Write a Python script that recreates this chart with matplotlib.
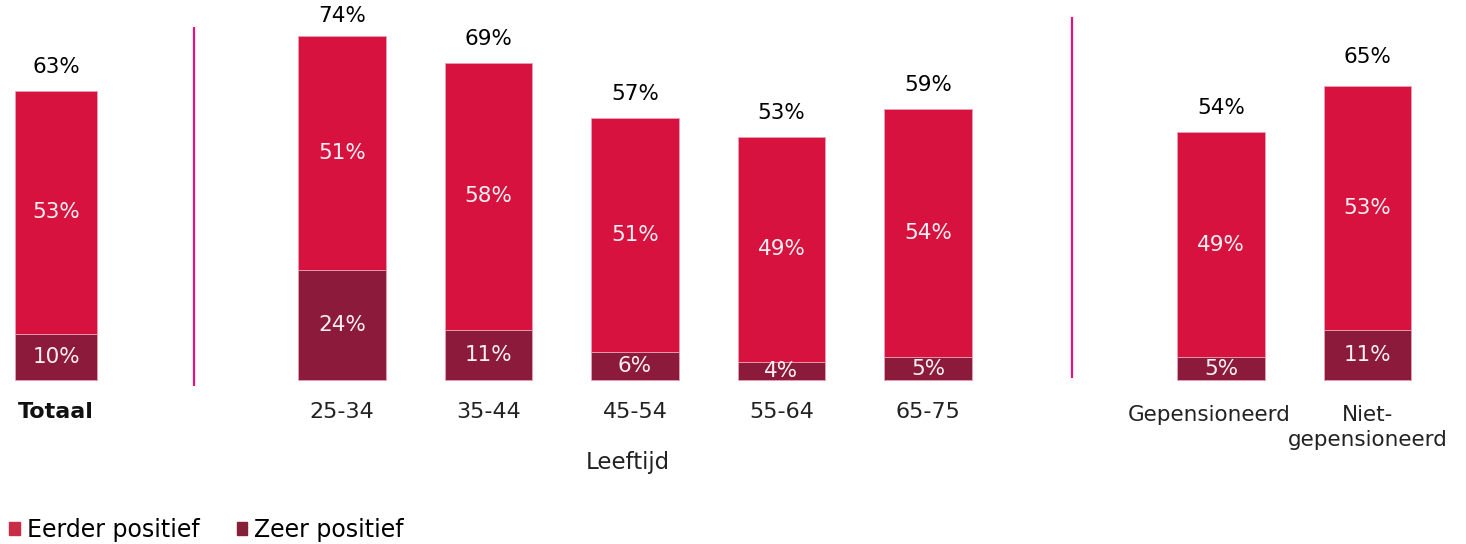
import matplotlib
matplotlib.use("Agg")
import matplotlib.pyplot as plt
from matplotlib.patches import Patch

# Data
categories = ["Totaal", "25-34", "35-44", "45-54", "55-64", "65-75",
              "Gepensioneerd", "Niet-\ngepensioneerd"]
zeer_positief = [10, 24, 11, 6, 4, 5, 5, 11]
eerder_positief = [53, 51, 58, 51, 49, 54, 49, 53]
totals = [63, 74, 69, 57, 53, 59, 54, 65]
group_label = "Leeftijd"

# layout: slot positions of the bars, separators between groups
positions = [-1.95, 0, 1, 2, 3, 4, 6, 7]
widths = [0.56, 0.6, 0.6, 0.6, 0.6, 0.6, 0.6, 0.6]
separators = [-1.01, 4.98]

RED = "#D7123F"
DARK = "#8C1A3A"
LINE = "#E5127D"

plt.rcParams['font.family'] = ['DejaVu Sans']

fig = plt.figure(figsize=(14.66, 5.44), dpi=100)
ax = fig.add_axes([0, 0, 1, 1])
ax.set_xlim(-2.334, 7.672)
ax.set_ylim(-35.73, 82.8)
ax.axis('off')

ax.bar(positions, zeer_positief, width=widths, color=DARK,
       edgecolor="#E8A0B4", linewidth=0.6)
ax.bar(positions, eerder_positief, width=widths, bottom=zeer_positief,
       color=RED, edgecolor="#E8A0B4", linewidth=0.6)

for x, z, e, t in zip(positions, zeer_positief, eerder_positief, totals):
    ax.text(x, z / 2, f"{z}%", ha='center', va='center', color="#FBF1F4",
            fontsize=15.5)
    ax.text(x, z + e / 2, f"{e}%", ha='center', va='center', color="#FBF1F4",
            fontsize=15.5)
    ax.text(x, t + 3.1, f"{t}%", ha='center', va='bottom', color="black",
            fontsize=15.5)

# category labels
for i, (x, cat) in enumerate(zip(positions, categories)):
    if i == 0:
        ax.text(x, -4.7, cat, ha='center', va='top', fontsize=16,
                fontweight='bold', color="#111111")
    elif i >= 6:
        ax.text(x - (0.08 if i == 6 else 0), -5.4, cat, ha='center', va='top',
                fontsize=15.5, color="#222222", multialignment='center',
                linespacing=1.3)
    else:
        ax.text(x, -4.7, cat, ha='center', va='top', fontsize=16, color="#222222")

ax.text(1.95, -18.0, group_label, ha='center', va='center', fontsize=16.5,
        color="#222222")

# group separators
ax.vlines(separators[0], -1.3, 76.9, color=LINE, linewidth=1.6)
ax.vlines(separators[1], 0.4, 79.0, color=LINE, linewidth=1.6)

handles = [Patch(color="#C92D45", label="Eerder positief"),
           Patch(color="#862039", label="Zeer positief")]
fig.legend(handles=handles, loc='lower left', bbox_to_anchor=(-0.0048, -0.027),
           ncol=2, frameon=False, fontsize=17, handlelength=0.45,
           handleheight=0.45, handletextpad=0.3, columnspacing=1.55,
           borderaxespad=0.3)

fig.savefig("out.png", dpi=100)
